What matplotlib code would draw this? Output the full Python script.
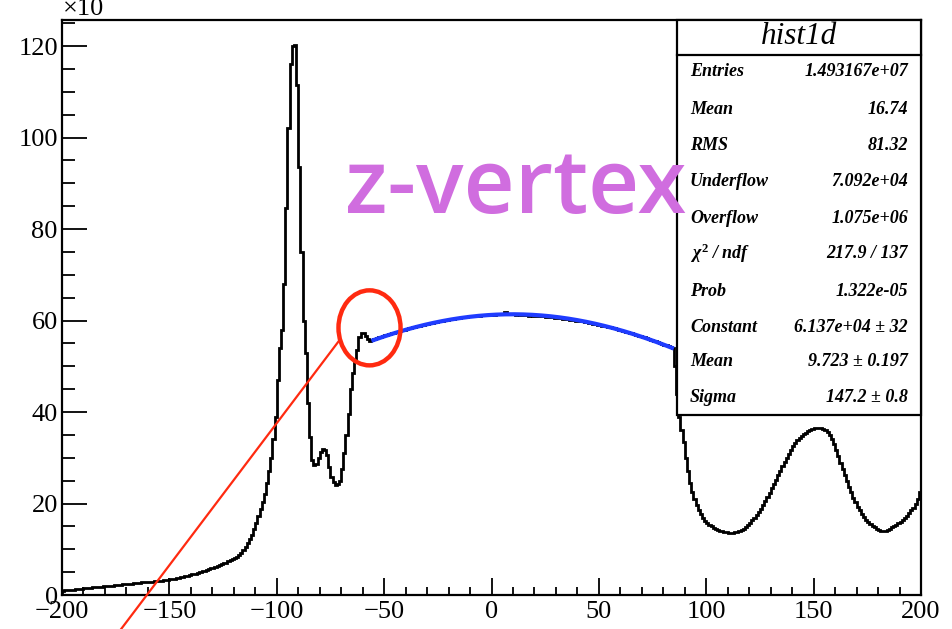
import matplotlib
matplotlib.use("Agg")
import matplotlib.pyplot as plt
from matplotlib.patches import Ellipse, Rectangle
import numpy as np

# histogram: 400 bins of 1 cm from -200 to 200, counts in units of 10^3
edges = np.arange(-200, 201, 1)
counts = [
    0.95, 1.0, 1.05, 1.1, 1.15, 1.2, 1.25, 1.3, 1.35, 1.4,
    1.45, 1.5, 1.55, 1.6, 1.65, 1.7, 1.75, 1.78, 1.82, 1.86,
    1.9, 1.95, 2.0, 2.05, 2.1, 2.15, 2.2, 2.25, 2.3, 2.35,
    2.4, 2.45, 2.5, 2.55, 2.6, 2.65, 2.7, 2.75, 2.8, 2.85,
    2.85, 2.9, 2.95, 3.0, 3.05, 3.1, 3.15, 3.2, 3.3, 3.35,
    3.4, 3.5, 3.6, 3.7, 3.8, 3.9, 4.0, 4.1, 4.2, 4.35,
    4.5, 4.6, 4.7, 4.85, 5.0, 5.15, 5.3, 5.45, 5.6, 5.8,
    5.95, 6.1, 6.3, 6.5, 6.7, 6.9, 7.1, 7.35, 7.6, 7.85,
    8.1, 8.4, 8.7, 9.1, 9.8, 10.5, 11.3, 12.2, 13.2, 14.4,
    15.7, 17.2, 18.8, 20.4, 22.0, 24.5, 27.0, 30.0, 34.0, 39.0,
    47.0, 54.0, 58.0, 68.0, 84.6, 102.0, 116.0, 120.0, 120.2, 111.5,
    93.5, 75.0, 60.0, 53.0, 42.0, 34.5, 29.5, 28.4, 28.7, 30.0,
    31.3, 32.0, 31.8, 30.5, 28.0, 25.8, 24.6, 24.0, 24.2, 25.0,
    27.5, 31.0, 35.0, 39.5, 45.0, 48.5, 51.2, 53.5, 56.4, 57.3,
    57.2, 56.6, 56.0, 55.6, 55.7, 55.9, 56.1, 56.3, 56.5, 56.6,
    56.8, 56.9, 57.0, 57.2, 57.3, 57.5, 57.6, 57.8, 57.9, 58.0,
    58.1, 58.3, 58.4, 58.5, 58.6, 58.8, 58.9, 59.0, 59.1, 59.2,
    59.3, 59.4, 59.5, 59.6, 59.7, 59.8, 59.9, 60.0, 60.1, 60.2,
    60.3, 60.3, 60.4, 60.5, 60.6, 60.6, 60.7, 60.8, 60.8, 60.9,
    60.9, 61.0, 61.0, 61.1, 61.1, 61.2, 61.2, 61.3, 61.2, 61.3,
    61.4, 61.3, 61.4, 61.5, 61.4, 61.4, 61.9, 61.5, 61.4, 61.4,
    61.4, 61.3, 61.4, 61.3, 61.3, 61.2, 61.2, 61.1, 61.2, 61.1,
    61.0, 61.0, 61.0, 60.9, 60.9, 60.8, 60.8, 60.7, 60.7, 60.6,
    60.6, 60.5, 60.5, 60.4, 60.3, 60.3, 60.2, 60.1, 60.1, 60.0,
    59.9, 59.8, 59.8, 59.7, 59.6, 59.5, 59.4, 59.3, 59.2, 59.1,
    59.0, 58.9, 58.8, 58.7, 58.6, 58.5, 58.4, 58.3, 58.1, 58.0,
    57.9, 57.8, 57.6, 57.5, 57.3, 57.2, 57.1, 56.9, 56.7, 56.6,
    56.4, 56.3, 56.1, 56.0, 55.8, 55.6, 55.5, 55.4, 55.1, 54.9,
    54.7, 54.6, 54.4, 54.2, 53.9, 50.0, 44.0, 39.0, 36.0, 33.5,
    30.0, 27.0, 24.5, 22.5, 21.0, 19.6, 18.5, 17.6, 16.8, 16.2,
    15.7, 15.3, 15.0, 14.7, 14.5, 14.3, 14.1, 14.0, 13.8, 13.7,
    13.6, 13.6, 13.6, 13.7, 13.8, 14.0, 14.2, 14.5, 14.9, 15.3,
    15.8, 16.3, 16.9, 17.5, 18.2, 18.9, 19.7, 20.6, 21.5, 22.4,
    23.3, 24.2, 25.2, 26.2, 27.2, 28.2, 29.1, 30.0, 30.9, 31.8,
    32.5, 33.2, 33.8, 34.3, 34.8, 35.2, 35.5, 35.8, 36.0, 36.2,
    36.4, 36.5, 36.6, 36.5, 36.3, 36.0, 35.6, 35.0, 34.2, 33.1,
    31.8, 30.4, 28.8, 27.5, 26.2, 24.9, 23.6, 22.5, 21.3, 20.3,
    19.3, 18.5, 17.7, 17.0, 16.4, 15.9, 15.5, 15.1, 14.8, 14.5,
    14.3, 14.1, 14.0, 14.1, 14.3, 14.5, 14.8, 15.0, 15.3, 15.7,
    16.0, 16.4, 16.8, 17.3, 17.9, 18.5, 19.1, 19.9, 20.9, 22.5,
]

# gaus fit parameters from the stats box (Constant in units of 10^3)
fit_const = 61.37
fit_mean = 9.723
fit_sigma = 147.2
fit_range = [-55, 84]

stat_labels = ["Entries", "Mean", "RMS", "Underflow", "Overflow",
               r"$\chi^{2}$ / ndf", "Prob", "Constant", "Mean", "Sigma"]
stat_values = ["1.493167e+07", "16.74", "81.32", "7.092e+04", "1.075e+06",
               "217.9 / 137", "1.322e-05", "6.137e+04 ± 32",
               "9.723 ± 0.197", "147.2 ± 0.8"]

serif = "Liberation Serif"
plt.rcParams["mathtext.fontset"] = "custom"
plt.rcParams["mathtext.it"] = "Liberation Serif:italic:bold"
plt.rcParams["mathtext.rm"] = "Liberation Serif:bold"

fig = plt.figure(figsize=(9.52, 6.29), dpi=100)
ax = fig.add_axes([62/952, 1-595/629, 859/952, 575/629])

ax.stairs(counts, edges, color="k", lw=2.0, zorder=3)

xf = np.linspace(fit_range[0], fit_range[1], 200)
yf = fit_const*np.exp(-0.5*((xf-fit_mean)/fit_sigma)**2)
ax.plot(xf, yf, color="#1f3cff", lw=3.0, zorder=4)

ax.set_xlim(-200, 200)
ax.set_ylim(0, 125.7)
ax.set_xticks(np.arange(-200, 201, 50))
ax.set_xticks(np.arange(-200, 201, 10), minor=True)
ax.set_yticks(np.arange(0, 121, 20))
ax.set_yticks(np.arange(0, 126, 5), minor=True)
ax.tick_params(which="both", direction="in", top=False, right=False, width=1.3)
ax.tick_params(axis="x", which="major", length=12, pad=4)
ax.tick_params(axis="x", which="minor", length=6)
ax.tick_params(axis="y", which="major", length=18, pad=3)
ax.tick_params(axis="y", which="minor", length=9)
for lab in ax.get_xticklabels() + ax.get_yticklabels():
    lab.set_fontfamily(serif)
    lab.set_fontsize(19)
for s in ax.spines.values():
    s.set_linewidth(1.6)

# annotation: red ellipse and line
ax.add_patch(Ellipse((-56.8, 58.4), 28.9, 16.4, fill=False, ec="#ff2a10",
                     lw=3.2, zorder=6))
ax.plot([-70.8, -172.4], [55.7, -7.4], color="#ff2a10", lw=1.6,
        clip_on=False, zorder=6)

# stats box
bx0, by0 = (677-62)/859, (595-415)/575
ax.add_patch(Rectangle((bx0, by0), 1-bx0, 1-by0, transform=ax.transAxes,
                       fc="white", ec="k", lw=1.6, zorder=8, clip_on=False))
ysep = (595-55)/575
ax.plot([bx0, 1], [ysep, ysep], transform=ax.transAxes, color="k", lw=1.6,
        zorder=9, clip_on=False)
ax.text((bx0+1)/2, (595-37)/575, "hist1d", transform=ax.transAxes,
        ha="center", va="center", fontfamily=serif, style="italic",
        fontsize=22.5, zorder=10)
row_py = [72, 109, 145, 182, 218, 253, 291, 327, 362, 398]
for lab, val, py in zip(stat_labels, stat_values, row_py):
    yy = (595-py)/575
    ax.text((690-62)/859, yy, lab, transform=ax.transAxes, ha="left",
            va="center", fontfamily=serif, style="italic", weight="bold",
            fontsize=13, zorder=10)
    ax.text((908-62)/859, yy, val, transform=ax.transAxes, ha="right",
            va="center", fontfamily=serif, style="italic", weight="bold",
            fontsize=13, zorder=10)

# label drawn over the stats box, as in the original
ax.text(-68, 83.5, "z-vertex", color="#d06ddf", fontsize=64,
        fontfamily="Open Sans", weight="semibold", ha="left",
        va="baseline", zorder=11)

fig.text(63/952, 1-15/629, "×10", fontfamily=serif, fontsize=19,
         ha="left", va="baseline")

fig.savefig("out.png", dpi=100)
